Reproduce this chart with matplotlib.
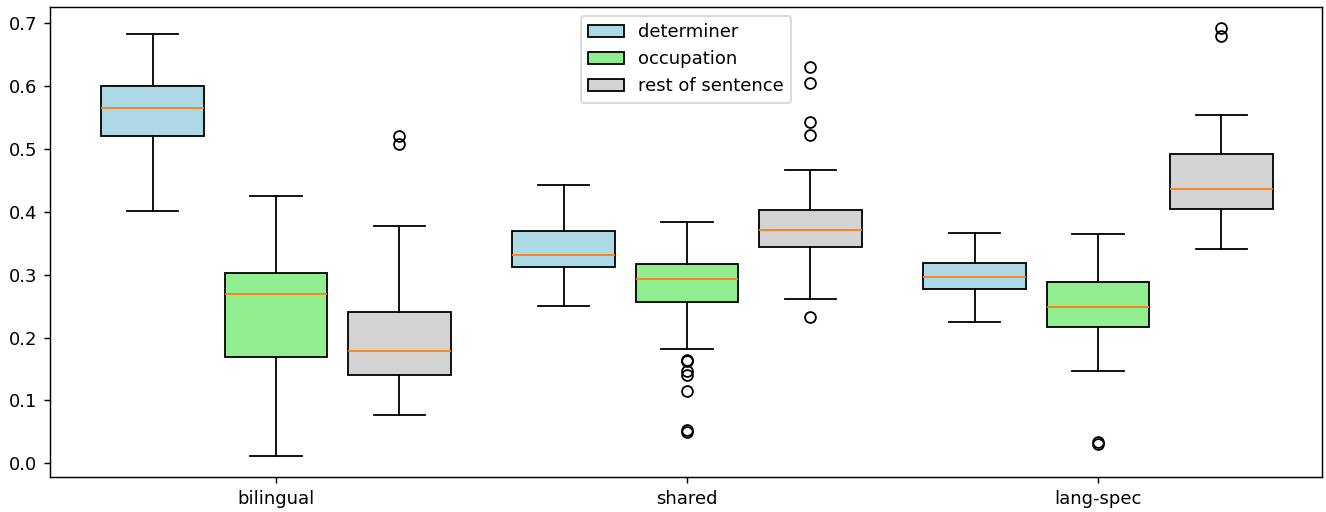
import matplotlib
matplotlib.use("Agg")
import matplotlib.pyplot as plt
from matplotlib.patches import Patch

groups = ["bilingual", "shared", "lang-spec"]
parts = ["determiner", "occupation", "rest of sentence"]
colors = ["lightblue", "lightgreen", "lightgray"]

# box statistics, order: bilingual det/occ/rest, shared ..., lang-spec ...
whislo = [0.402, 0.011, 0.077, 0.250, 0.181, 0.261, 0.224, 0.147, 0.341]
q1 = [0.521, 0.169, 0.140, 0.313, 0.257, 0.344, 0.278, 0.217, 0.404]
med = [0.565, 0.270, 0.179, 0.332, 0.294, 0.371, 0.296, 0.248, 0.436]
q3 = [0.600, 0.302, 0.241, 0.370, 0.317, 0.403, 0.319, 0.288, 0.492]
whishi = [0.683, 0.425, 0.377, 0.443, 0.384, 0.466, 0.367, 0.365, 0.555]
fliers = [
    [],
    [],
    [0.521, 0.508],
    [],
    [0.165, 0.162, 0.146, 0.141, 0.115, 0.053, 0.050],
    [0.631, 0.606, 0.543, 0.523, 0.233],
    [],
    [0.034, 0.030],
    [0.693, 0.680],
]

stats = []
for i in range(len(med)):
    stats.append({"whislo": whislo[i], "q1": q1[i], "med": med[i], "q3": q3[i],
                  "whishi": whishi[i], "fliers": fliers[i]})

positions = []
for g in range(len(groups)):
    for k in range(len(parts)):
        positions.append(g + 1 + (k - 1) * 0.3)

fig, ax = plt.subplots(figsize=(1326 / 130, 512 / 130), dpi=130)
fig.subplots_adjust(left=0.0377, right=0.997, bottom=0.0684, top=0.986)

bp = ax.bxp(stats, positions=positions, widths=0.25, patch_artist=True)
for i, box in enumerate(bp["boxes"]):
    box.set_facecolor(colors[i % 3])
    box.set_edgecolor("black")

ax.set_xticks([1, 2, 3])
ax.set_xticklabels(groups)
ax.set_xlim(0.45, 3.545)
ax.set_ylim(-0.022, 0.726)

handles = [Patch(facecolor=c, edgecolor="black", label=p) for c, p in zip(colors, parts)]
ax.legend(handles=handles, loc="upper center")

plt.savefig("out.png")
